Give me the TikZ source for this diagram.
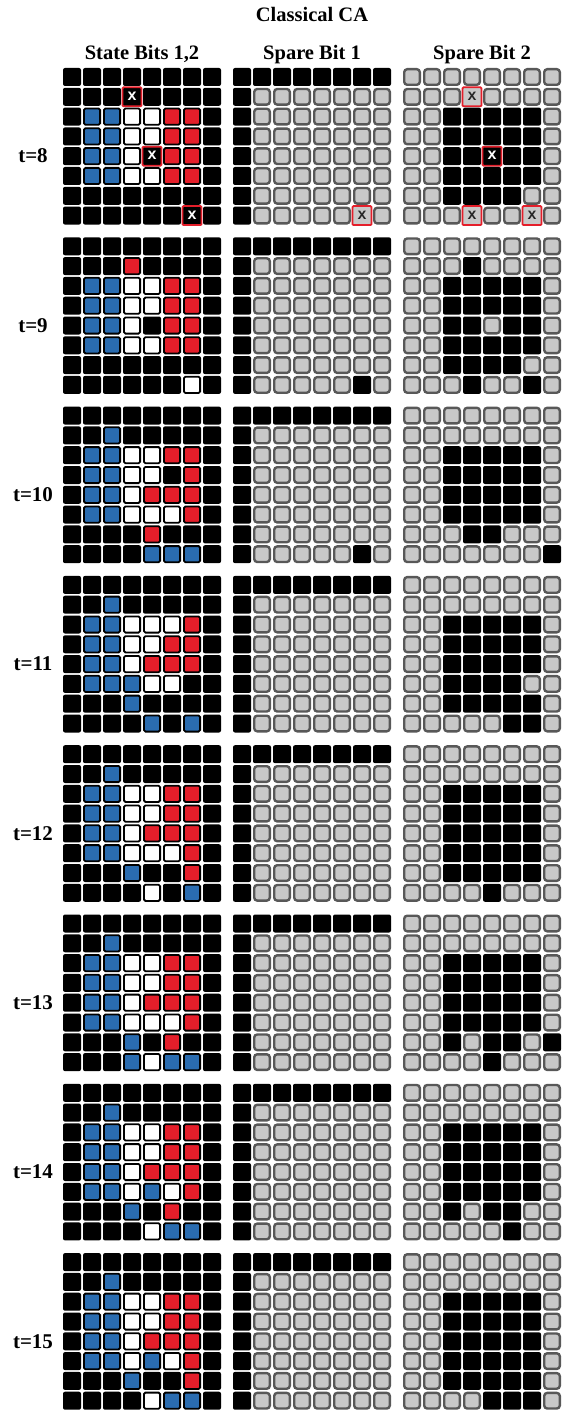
\documentclass[tikz,border=0pt]{standalone}
\usepackage{fontspec}
\setmainfont{Liberation Serif}
\setsansfont{Liberation Sans}
\usetikzlibrary{positioning}
\definecolor{cablue}{RGB}{42,108,176}
\definecolor{cared}{RGB}{228,30,42}
\definecolor{calight}{RGB}{200,200,200}
\definecolor{cadark}{RGB}{88,88,88}

\newcount\cellrow
\newcount\cellcol
% one cell per letter of a row string
\def\drawcell#1{\node[cell#1] (\gname-\the\cellrow-\the\cellcol)
  at ({\gx+9+20*\the\cellcol},{\gy+9+19.8*\the\cellrow}) {};%
  \global\advance\cellcol by 1 }
\def\rowloop#1{\ifx#1\relax\else\drawcell#1\expandafter\rowloop\fi}
% 8x8 grid: name, left, top, rows
\newcommand\cagrid[4]{%
  \def\gname{#1}\def\gx{#2}\def\gy{#3}%
  \global\cellrow=0
  \foreach \cells in {#4}{%
    \global\cellcol=0
    \expandafter\rowloop\cells\relax
    \global\advance\cellrow by 1
  }}

\begin{document}
\begin{tikzpicture}[
    x=1pt, y=-1pt,
    head/.style={font=\bfseries\fontsize{20.5}{24}\selectfont, inner sep=0pt, anchor=base},
    tlabel/.style={font=\bfseries\fontsize{21}{24}\selectfont, inner sep=0pt, anchor=base},
    xmark/.style={font=\sffamily\bfseries\fontsize{16}{16}\selectfont, inner sep=0pt, yshift=0.5pt},
    cellK/.style={fill=black, rounded corners=2pt, minimum size=18pt, inner sep=0pt},
    cellB/.style={fill=cablue, draw=black, line width=1.8pt, rounded corners=1.5pt, minimum size=16.2pt, inner sep=0pt},
    cellR/.style={cellB, fill=cared},
    cellW/.style={cellB, fill=white},
    cellG/.style={fill=calight, draw=cadark, line width=2.4pt, rounded corners=3pt, minimum size=15.6pt, inner sep=0pt},
    cellX/.style={fill=black, draw=cared, line width=1.8pt, rounded corners=1pt, minimum size=19pt, inner sep=0pt,
      label={[xmark, text=white]center:x}},
    cellY/.style={cellX, fill=calight, label={[xmark, text=black!85]center:x}}
  ]
  \useasboundingbox (0,0) rectangle (563,1412);
  % Headings
  \node[head] (title) at (312,22) {Classical CA};
  \node[head] (hstate) at (142,60) {State Bits 1,2};
  \node[head] (hspare1) at (312,60) {Spare Bit 1};
  \node[head] (hspare2) at (482,60) {Spare Bit 2};
  \foreach \t/\top in {8/68,9/237.3,10/406.6,11/575.9,12/745.2,13/914.5,14/1083.8,15/1253.1}
    \node[tlabel] (t\t) at (33,\top+95) {t=\t};
  % t=8
  \cagrid{state8}{63}{68}{KKKKKKKK,KKKXKKKK,KBBWWRRK,KBBWWRRK,KBBWXRRK,KBBWWRRK,KKKKKKKK,KKKKKKXK}
  \cagrid{spareone8}{233}{68}{KKKKKKKK,KGGGGGGG,KGGGGGGG,KGGGGGGG,KGGGGGGG,KGGGGGGG,KGGGGGGG,KGGGGGYG}
  \cagrid{sparetwo8}{403}{68}{GGGGGGGG,GGGYGGGG,GGKKKKKG,GGKKKKKG,GGKKXKKG,GGKKKKKG,GGKKKKGG,GGGYGGYG}
  % t=9
  \cagrid{state9}{63}{237.3}{KKKKKKKK,KKKRKKKK,KBBWWRRK,KBBWWRRK,KBBWKRRK,KBBWWRRK,KKKKKKKK,KKKKKKWK}
  \cagrid{spareone9}{233}{237.3}{KKKKKKKK,KGGGGGGG,KGGGGGGG,KGGGGGGG,KGGGGGGG,KGGGGGGG,KGGGGGGG,KGGGGGKG}
  \cagrid{sparetwo9}{403}{237.3}{GGGGGGGG,GGGKGGGG,GGKKKKKG,GGKKKKKG,GGKKGKKG,GGKKKKKG,GGKKKKGG,GGGKGGKG}
  % t=10
  \cagrid{state10}{63}{406.6}{KKKKKKKK,KKBKKKKK,KBBWWRRK,KBBWWKRK,KBBWRRRK,KBBWWWRK,KKKKRKKK,KKKKBBBK}
  \cagrid{spareone10}{233}{406.6}{KKKKKKKK,KGGGGGGG,KGGGGGGG,KGGGGGGG,KGGGGGGG,KGGGGGGG,KGGGGGGG,KGGGGGKG}
  \cagrid{sparetwo10}{403}{406.6}{GGGGGGGG,GGGGGGGG,GGKKKKKG,GGKKKKKG,GGKKKKKG,GGKKKKKG,GGGKKGGG,GGGGGGGK}
  % t=11
  \cagrid{state11}{63}{575.9}{KKKKKKKK,KKBKKKKK,KBBWWWRK,KBBWWRRK,KBBWRRRK,KBBBWWKK,KKKBKKKK,KKKKBKBK}
  \cagrid{spareone11}{233}{575.9}{KKKKKKKK,KGGGGGGG,KGGGGGGG,KGGGGGGG,KGGGGGGG,KGGGGGGG,KGGGGGGG,KGGGGGGG}
  \cagrid{sparetwo11}{403}{575.9}{GGGGGGGG,GGGGGGGG,GGKKKKKG,GGKKKKKG,GGKKKKKG,GGKKKKGG,GGKKKKKG,GGGGGKKG}
  % t=12
  \cagrid{state12}{63}{745.2}{KKKKKKKK,KKBKKKKK,KBBWWRRK,KBBWWRRK,KBBWRRRK,KBBWWWRK,KKKBKKRK,KKKKWKBK}
  \cagrid{spareone12}{233}{745.2}{KKKKKKKK,KGGGGGGG,KGGGGGGG,KGGGGGGG,KGGGGGGG,KGGGGGGG,KGGGGGGG,KGGGGGGG}
  \cagrid{sparetwo12}{403}{745.2}{GGGGGGGG,GGGGGGGG,GGKKKKKG,GGKKKKKG,GGKKKKKG,GGKKKKKG,GGKKKKKG,GGGGKGGG}
  % t=13
  \cagrid{state13}{63}{914.5}{KKKKKKKK,KKBKKKKK,KBBWWRRK,KBBWWRRK,KBBWRRRK,KBBWWWRK,KKKBKRKK,KKKBWBBK}
  \cagrid{spareone13}{233}{914.5}{KKKKKKKK,KGGGGGGG,KGGGGGGG,KGGGGGGG,KGGGGGGG,KGGGGGGG,KGGGGGGG,KGGGGGGG}
  \cagrid{sparetwo13}{403}{914.5}{GGGGGGGG,GGGGGGGG,GGKKKKKG,GGKKKKKG,GGKKKKKG,GGKKKKKG,GGKGKKGK,GGGGKGGG}
  % t=14
  \cagrid{state14}{63}{1083.8}{KKKKKKKK,KKBKKKKK,KBBWWRRK,KBBWWRRK,KBBWRRRK,KBBWBWRK,KKKBKRKK,KKKKWBBK}
  \cagrid{spareone14}{233}{1083.8}{KKKKKKKK,KGGGGGGG,KGGGGGGG,KGGGGGGG,KGGGGGGG,KGGGGGGG,KGGGGGGG,KGGGGGGG}
  \cagrid{sparetwo14}{403}{1083.8}{GGGGGGGG,GGGGGGGG,GGKKKKKG,GGKKKKKG,GGKKKKKG,GGKKKKKG,GGKGKKGG,GGGGGKGG}
  % t=15
  \cagrid{state15}{63}{1253.1}{KKKKKKKK,KKBKKKKK,KBBWWRRK,KBBWWRRK,KBBWRRRK,KBBWBWRK,KKKBKKRK,KKKKWBBK}
  \cagrid{spareone15}{233}{1253.1}{KKKKKKKK,KGGGGGGG,KGGGGGGG,KGGGGGGG,KGGGGGGG,KGGGGGGG,KGGGGGGG,KGGGGGGG}
  \cagrid{sparetwo15}{403}{1253.1}{GGGGGGGG,GGGGGGGG,GGKKKKKG,GGKKKKKG,GGKKKKKG,GGKKKKKG,GGKKKKKG,GGGGKKKG}
\end{tikzpicture}
\end{document}
